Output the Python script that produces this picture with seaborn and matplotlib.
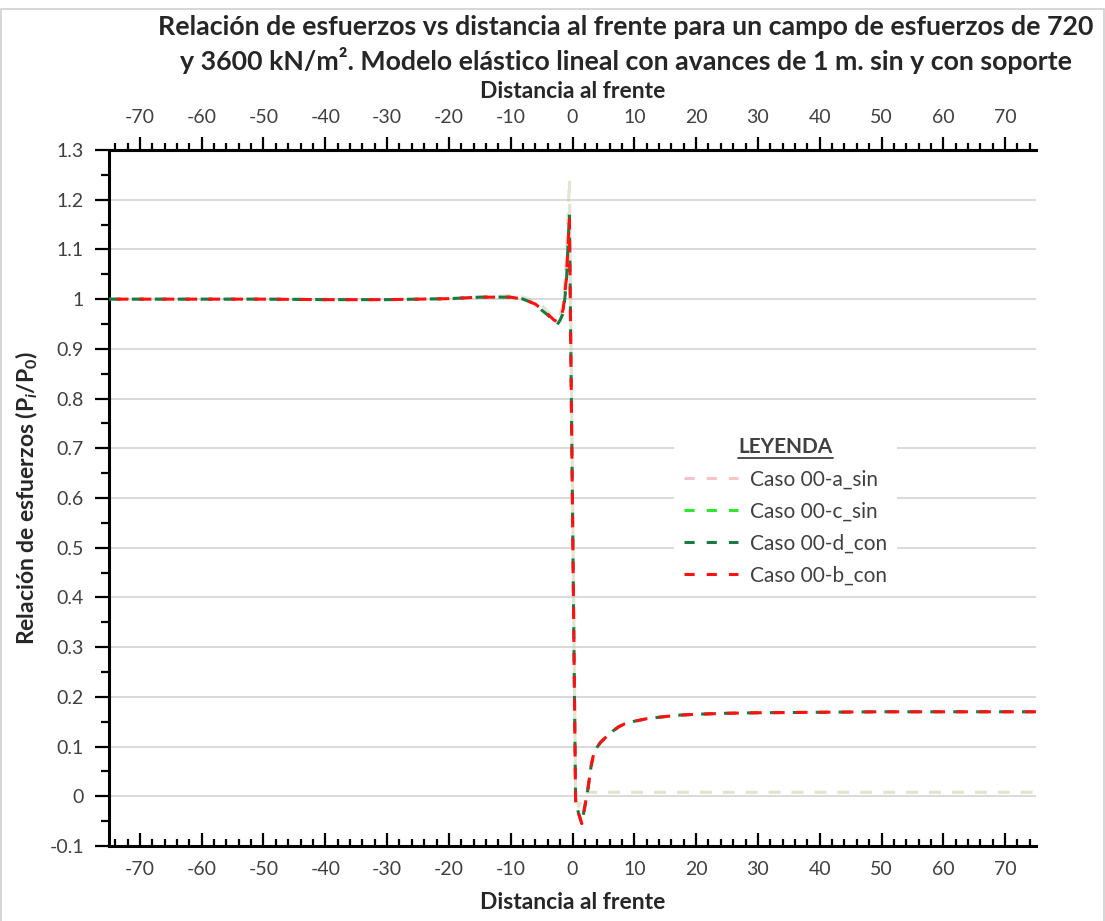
import numpy as np
import pandas as pd
import matplotlib
matplotlib.use("Agg")
import matplotlib.pyplot as plt
import seaborn as sns
from matplotlib.lines import Line2D
from matplotlib.ticker import MultipleLocator, FuncFormatter
from matplotlib.patches import Rectangle

# Distance to the face (m)
distancia = [-75, -60, -50, -40, -30, -20, -15, -10, -8, -6, -5, -4, -3, -2.5, -2,
             -1.5, -1, -0.5, 0.5, 1, 1.5, 2, 2.5, 3, 3.5, 4.5, 5.5, 6.5, 7.5, 8.5,
             10, 12, 14, 17, 20, 25, 30, 40, 50, 60, 75]

# Stress ratio Pi/P0 for each case
caso_a_sin = [1.0, 1.0, 1.0, 1.0, 0.999, 1.0, 1.004, 1.007, 1.004, 0.996, 0.988, 0.975,
              0.965, 0.962, 0.970, 0.990, 1.080, 1.240, 0.0, -0.020, -0.010, 0.008,
              0.008, 0.008, 0.008, 0.008, 0.008, 0.008, 0.008, 0.008, 0.008, 0.008,
              0.008, 0.008, 0.008, 0.008, 0.008, 0.008, 0.008, 0.008, 0.008]
caso_c_sin = [1.0, 1.0, 1.0, 1.0, 0.999, 1.0, 1.004, 1.007, 1.004, 0.996, 0.988, 0.975,
              0.965, 0.962, 0.970, 0.990, 1.080, 1.240, 0.0, -0.020, -0.010, 0.008,
              0.008, 0.008, 0.008, 0.008, 0.008, 0.008, 0.008, 0.008, 0.008, 0.008,
              0.008, 0.008, 0.008, 0.008, 0.008, 0.008, 0.008, 0.008, 0.008]
caso_d_con = [1.0, 1.0, 1.0, 0.999, 0.999, 1.001, 1.004, 1.004, 1.0, 0.990, 0.978, 0.968,
              0.955, 0.948, 0.958, 0.972, 1.030, 1.173, -0.010, -0.035, -0.055, -0.020,
              0.015, 0.060, 0.090, 0.108, 0.120, 0.131, 0.140, 0.146, 0.151, 0.156,
              0.159, 0.163, 0.165, 0.167, 0.168, 0.169, 0.170, 0.170, 0.170]
caso_b_con = [1.0, 1.0, 1.0, 0.999, 0.999, 1.001, 1.004, 1.004, 1.0, 0.990, 0.980, 0.970,
              0.958, 0.955, 0.960, 0.980, 1.040, 1.160, -0.010, -0.035, -0.055, -0.020,
              0.015, 0.060, 0.090, 0.108, 0.120, 0.131, 0.140, 0.146, 0.151, 0.156,
              0.159, 0.163, 0.165, 0.167, 0.168, 0.169, 0.170, 0.170, 0.170]

etiquetas = ["Caso 00-a_sin", "Caso 00-c_sin", "Caso 00-d_con", "Caso 00-b_con"]
colores = ["#f8c4c6", "#2ee82e", "#1a7a42", "#ff1111"]

sns.set_theme(style="white")
plt.rcParams["font.family"] = ["Lato", "DejaVu Sans"]
plt.rcParams["mathtext.fontset"] = "custom"
plt.rcParams["mathtext.rm"] = "Lato:bold"
plt.rcParams["mathtext.it"] = "Lato:bold:italic"
plt.rcParams["lines.scale_dashes"] = False
plt.rcParams["axes.unicode_minus"] = False

fig = plt.figure(figsize=(11.05, 9.21), dpi=100)
fig.patch.set_facecolor("white")
ax = fig.add_axes([109 / 1105, 75 / 921, 927 / 1105, 696 / 921])

lw = 2.2
dash = (8.5, 8.0)
periodo = sum(dash)

series = [
    (caso_c_sin, colores[1], 0.2, (0, dash)),
    (caso_a_sin, colores[0], 0.4, (0, dash)),
    (caso_d_con, colores[2], 1.0, (0, dash)),
    (caso_b_con, colores[3], 1.0, (periodo - 5.5, dash)),
]
for valores, color, alpha, estilo in series:
    df = pd.DataFrame({"x": distancia, "y": valores})
    sns.lineplot(data=df, x="x", y="y", color=color, alpha=alpha, lw=lw,
                 ax=ax, errorbar=None, sort=False, legend=False, zorder=3)
    ax.lines[-1].set_linestyle(estilo)

ax.set_xlim(-75, 75)
ax.set_ylim(-0.1, 1.3)

# Horizontal gridlines
ax.yaxis.set_major_locator(MultipleLocator(0.1))
ax.yaxis.set_minor_locator(MultipleLocator(0.05))
ax.grid(axis="y", which="major", color="#d9d9d9", lw=1.4, zorder=0)
ax.grid(axis="x", visible=False)

ax.yaxis.set_major_formatter(FuncFormatter(lambda v, p: f"{round(v, 2):g}"))
tick_color = "#404040"
tsize = 14
ax.tick_params(axis="y", which="major", direction="out", length=10, width=1.6,
               pad=8, labelsize=tsize, labelcolor=tick_color, color="black", left=True)
ax.tick_params(axis="y", which="minor", direction="out", length=6, width=1.6,
               color="black", left=True)

# Bottom axis: inward ticks
ax.xaxis.set_major_locator(MultipleLocator(10))
ax.xaxis.set_minor_locator(MultipleLocator(2))
ax.tick_params(axis="x", which="major", direction="in", length=9.5, width=1.6,
               pad=11, labelsize=tsize, labelcolor=tick_color, color="black", bottom=True)
ax.tick_params(axis="x", which="minor", direction="in", length=5, width=1.6,
               color="black", bottom=True)
ax.set_xticks(range(-70, 71, 10))

for s in ["left", "bottom", "top"]:
    ax.spines[s].set_visible(True)
    ax.spines[s].set_color("black")
    ax.spines[s].set_linewidth(2.2)
ax.spines["right"].set_visible(False)

# Top axis: outward ticks
sec = ax.secondary_xaxis("top")
sec.set_xticks(range(-70, 71, 10))
sec.xaxis.set_minor_locator(MultipleLocator(2))
sec.tick_params(axis="x", which="major", direction="out", length=9.5, width=1.6,
                pad=8, labelsize=tsize, labelcolor=tick_color, color="black")
sec.tick_params(axis="x", which="minor", direction="out", length=5, width=1.6, color="black")
sec.spines["top"].set_linewidth(2.2)
sec.set_xlabel("Distancia al frente", fontsize=16.5, fontweight="bold", labelpad=8)

ax.set_xlabel("Distancia al frente", fontsize=16.5, fontweight="bold", labelpad=10)
ax.set_ylabel(r"Relación de esfuerzos (P$_{\mathit{i}}$/P$_{\mathregular{0}}$)",
              fontsize=16.5, fontweight="bold")
ax.yaxis.set_label_coords((27 - 109) / 927, 0.5)
ax.yaxis.label.set_verticalalignment("center")

fig.text(626 / 1105, 1 - 27 / 921,
         "Relación de esfuerzos vs distancia al frente para un campo de esfuerzos de 720",
         ha="center", va="center", fontsize=19.3, fontweight="bold")
fig.text(626 / 1105, 1 - 60 / 921,
         "y 3600 kN/m². Modelo elástico lineal con avances de 1 m. sin y con soporte",
         ha="center", va="center", fontsize=19.3, fontweight="bold")

leg_dash = (7.3, 8.7)
handles = [Line2D([0], [0], color=c, lw=lw, linestyle=(0, leg_dash)) for c in colores]
leg = ax.legend(handles, etiquetas, title="LEYENDA", loc="upper left",
                bbox_to_anchor=(0.598, 0.617), frameon=True, facecolor="white",
                edgecolor="none", framealpha=1.0, fontsize=15, handlelength=2.6,
                handletextpad=0.55, labelspacing=0.58, borderpad=0.5,
                title_fontproperties={"weight": "bold", "size": 15})
leg.get_title().set_color("#404040")
for t in leg.get_texts():
    t.set_color("#404040")
leg.set_zorder(5)

# Underline for the legend title
fig.canvas.draw()
bb = leg.get_title().get_window_extent()
inv = fig.transFigure.inverted()
(x0, y0), (x1, _) = inv.transform([(bb.x0, bb.y0), (bb.x1, bb.y0)])
fig.add_artist(Line2D([x0, x1], [y0 - 0.001, y0 - 0.001], color="#404040", lw=1.3,
                      transform=fig.transFigure, zorder=10))

# Thin frame around the chart
fig.add_artist(Rectangle((0.001, -0.01), 0.998, 1.0, transform=fig.transFigure,
                         fill=False, edgecolor="#d0d0d0", lw=1.2))

fig.savefig("out.png", dpi=100, facecolor="white")
